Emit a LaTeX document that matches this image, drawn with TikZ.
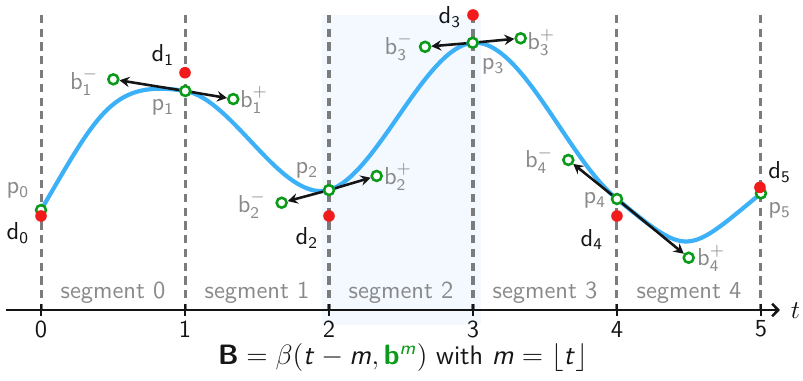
\documentclass[tikz,border=0pt]{standalone}
\usetikzlibrary{arrows.meta,positioning,calc,backgrounds}
\definecolor{ink}{HTML}{151515}
\definecolor{muted}{HTML}{8A8A8A}
\definecolor{guide}{HTML}{7C7C7C}
\definecolor{spline}{HTML}{3DB1F8}
\definecolor{handle}{HTML}{0B9A1A}
\definecolor{datum}{HTML}{F21B1B}
\definecolor{band}{HTML}{F4F9FF}
\DeclareMathAlphabet{\mathsfit}{OT1}{cmss}{m}{sl}
\DeclareMathAlphabet{\mathsfbf}{OT1}{cmss}{bx}{n}
\newcommand{\Unit}{2.17}
\newcommand{\RingD}{1.5mm}
\newcommand{\DotD}{1.75mm}

\begin{document}
\begin{tikzpicture}[x=\Unit cm, y=\Unit cm, font=\sffamily\fontsize{10.5}{12}\selectfont, ink,
  ring/.style={circle, draw=handle, fill=white, line width=1.1pt, inner sep=0pt, minimum size=\RingD},
  dot/.style={circle, fill=datum, inner sep=0pt, minimum size=\DotD},
  tangent/.style={-{Stealth[length=4.3pt,width=4.5pt,inset=1.5pt]}, line width=1.1pt, ink},
  plabel/.style={text=muted, inner sep=1pt},
  dlabel/.style={text=ink, inner sep=1pt}]

\useasboundingbox (-0.285,-0.493) rectangle (5.292,2.153);

% --- Points on the curve, with a handle either side ---------------------------
\foreach \i/\x/\y in {0/0/0.694, 1/1.002/1.521, 2/2/0.833, 3/2.998/1.856, 4/4/0.771, 5/5/0.81}
  \node[ring] (p\i) at (\x,\y) {};
\foreach \n/\x/\y in {b1m/0.502/1.602, b1p/1.335/1.465, b2m/1.671/0.745, b2p/2.331/0.931,
                      b3m/2.667/1.828, b3p/3.331/1.887, b4m/3.662/1.042, b4p/4.498/0.363}
  \node[ring] (\n) at (\x,\y) {};
\coordinate (b0p) at (0.4,1.38);
\coordinate (b5m) at (4.48,0.38);

% --- Data points ---------------------------------------------------------------
\foreach \i/\x/\y in {0/0/0.653, 1/1/1.648, 2/2/0.653, 3/3/2.049, 4/4/0.653, 5/4.993/0.852}
  \node[dot] (d\i) at (\x,\y) {};

% --- Labels ----------------------------------------------------------------------
\foreach \i/\x/\y in {0/-0.16/0.83, 1/0.847/1.41, 2/1.847/0.972, 3/3.14/1.69, 4/3.847/0.764, 5/5.13/0.694}
  \node[plabel] (lp\i) at (\x,\y) {p$_{\mathsf{\i}}$};
\foreach \i/\x/\y in {0/-0.16/0.535, 1/0.847/1.77, 2/1.847/0.5, 3/2.84/2.035, 4/3.826/0.49, 5/5.13/0.958}
  \node[dlabel] (ld\i) at (\x,\y) {d$_{\mathsf{\i}}$};
\foreach \n/\i/\s/\x/\y in {b1m/1/-/0.3/1.583, b1p/1/+/1.48/1.458, b2m/2/-/1.465/0.73, b2p/2/+/2.48/0.924,
                            b3m/3/-/2.485/1.826, b3p/3/+/3.475/1.86, b4m/4/-/3.46/1.04, b4p/4/+/4.655/0.36}
  \node[plabel] (l\n) at (\x,\y) {b$^{\s}_{\mathsf{\i}}$};

\foreach \s in {0,...,4}
  \node[text=muted] (seg\s) at (\s+0.5,0.118) {segment \s};
\foreach \t in {0,...,5}
  \node (tick\t) at (\t,-0.132) {\t};

\coordinate (tstart) at (-0.243,0);
\coordinate (tend) at (5.132,0);
\node (tname) at (5.24,-0.005) {$t$};

\node (formula) at (2.514,-0.33) {\fontsize{11.5}{14}\selectfont
  $\mathsfbf{B} = \beta(\mathsfit{t} - \mathsfit{m}, \textcolor{handle}{\mathsfbf{b}^{\mathsfit{m}}})$
  with $\mathsfit{m} = \lfloor \mathsfit{t} \rfloor$};

% --- Under the points: band, guides, axis, curve, tangents ---------------------
\begin{scope}[on background layer]
  \fill[band] (1.951,-0.104) rectangle (3.056,2.049);
  \foreach \t in {0,...,5} {
    \draw[guide, line width=1.3pt, dash pattern=on 3.5pt off 2.4pt] (\t,2.049) -- (\t,0);
    \draw[ink, line width=0.8pt] (\t,0.042) -- (\t,-0.042);
  }
  \draw[ink, line width=1.1pt, -{Straight Barb[length=2.6pt,width=5.4pt]}] (tstart) -- (tend);

  \draw[spline, line width=1.8pt]
    (p0.center) .. controls (b0p) and (b1m.center) .. (p1.center)
    .. controls (b1p.center) and (b2m.center) .. (p2.center)
    .. controls (b2p.center) and (b3m.center) .. (p3.center)
    .. controls (b3p.center) and (b4m.center) .. (p4.center)
    .. controls (b4p.center) and (b5m) .. (p5.center);

  \foreach \i in {1,...,4} {
    \draw[tangent] (p\i) -- (b\i m);
    \draw[tangent] (p\i) -- (b\i p);
  }
\end{scope}

\end{tikzpicture}
\end{document}
